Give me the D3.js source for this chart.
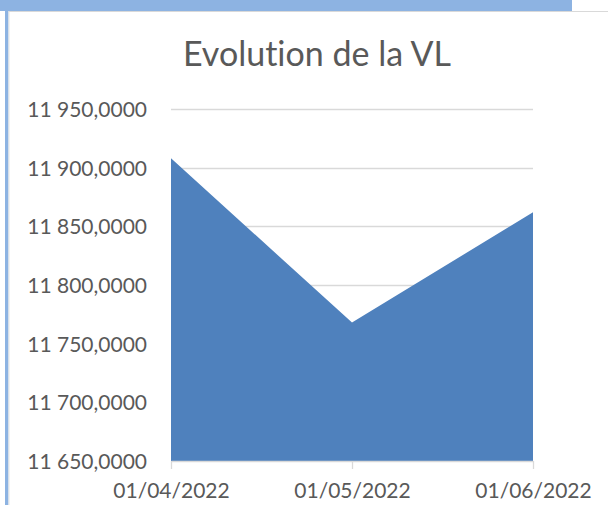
<!DOCTYPE html>
<html>
<head>
<meta charset="utf-8">
<script src="https://cdn.jsdelivr.net/npm/d3@7"></script>
<style>
  html, body { margin: 0; padding: 0; background: #ffffff; }
  svg { display: block; }
  text { font-variant-ligatures: none; font-feature-settings: "liga" 0, "dlig" 0; }
</style>
</head>
<body>
<svg id="chart" width="608" height="505"></svg>
<script>
// ---- data ----
const title = "Evolution de la VL";
const categories = ["01/04/2022", "01/05/2022", "01/06/2022"];
const values = [11908, 11768, 11862];
const yTicks = [11650, 11700, 11750, 11800, 11850, 11900, 11950];

// ---- layout ----
const W = 608, H = 505;
const plot = { left: 171, right: 533, top: 109, bottom: 461 };
const fontFamily = "Lato, 'Open Sans', sans-serif";
const textColor = "#595959";

const svg = d3.select("#chart");

// frame decorations (window-like border of the source screenshot)
svg.append("rect").attr("x", 0).attr("y", 0).attr("width", 572).attr("height", 11).attr("fill", "#8DB3E2");
svg.append("rect").attr("x", 5).attr("y", 11).attr("width", 3.5).attr("height", H - 11).attr("fill", "#8DB3E2");
svg.append("line").attr("x1", 8.5).attr("x2", W).attr("y1", 11.5).attr("y2", 11.5).attr("stroke", "#d9d9d9").attr("stroke-width", 1);
svg.append("line").attr("x1", 9).attr("x2", 9).attr("y1", 11.5).attr("y2", H).attr("stroke", "#e6e6e6").attr("stroke-width", 1);

// scales
const x = d3.scalePoint().domain(categories).range([plot.left, plot.right]);
const y = d3.scaleLinear().domain([11650, 11950]).range([plot.bottom, plot.top]);

// title
svg.append("text")
  .attr("x", 317).attr("y", 66)
  .attr("text-anchor", "middle")
  .attr("font-family", fontFamily)
  .attr("font-size", 34)
  .attr("fill", textColor)
  .text(title);

// gridlines
svg.append("g").selectAll("line").data(yTicks.slice(1)).join("line")
  .attr("x1", plot.left).attr("x2", plot.right)
  .attr("y1", d => Math.round(y(d)) + 0.5).attr("y2", d => Math.round(y(d)) + 0.5)
  .attr("stroke", "#d9d9d9").attr("stroke-width", 1.3);

// area
const area = d3.area()
  .x((d, i) => x(categories[i]))
  .y0(y(11650))
  .y1(d => y(d));
svg.append("path").datum(values)
  .attr("d", area)
  .attr("fill", "#4F81BD");

// y axis labels
const fmt = v => {
  const s = d3.format(",.4f")(v);
  return s.replace(/,/g, " ").replace(".", ",");
};
const yAxis = d3.axisLeft(y).tickValues(yTicks).tickSize(0).tickPadding(0).tickFormat(fmt);
const gy = svg.append("g").attr("transform", `translate(147,0)`).call(yAxis);
gy.select(".domain").remove();
gy.selectAll("text")
  .attr("font-family", fontFamily).attr("font-size", 21).attr("fill", textColor)
  .attr("dy", "0.35em");

// x axis
const xAxis = d3.axisBottom(x).tickSize(8).tickPadding(14).tickSizeOuter(0);
const gx = svg.append("g").attr("transform", `translate(0,${plot.bottom})`).call(xAxis);
gx.select(".domain").attr("stroke", "#d9d9d9").attr("stroke-width", 1.3);
gx.selectAll(".tick line").attr("stroke", "#d9d9d9").attr("stroke-width", 1.3);
gx.selectAll("text")
  .attr("font-family", fontFamily).attr("font-size", 21).attr("fill", textColor);
</script>
</body>
</html>
